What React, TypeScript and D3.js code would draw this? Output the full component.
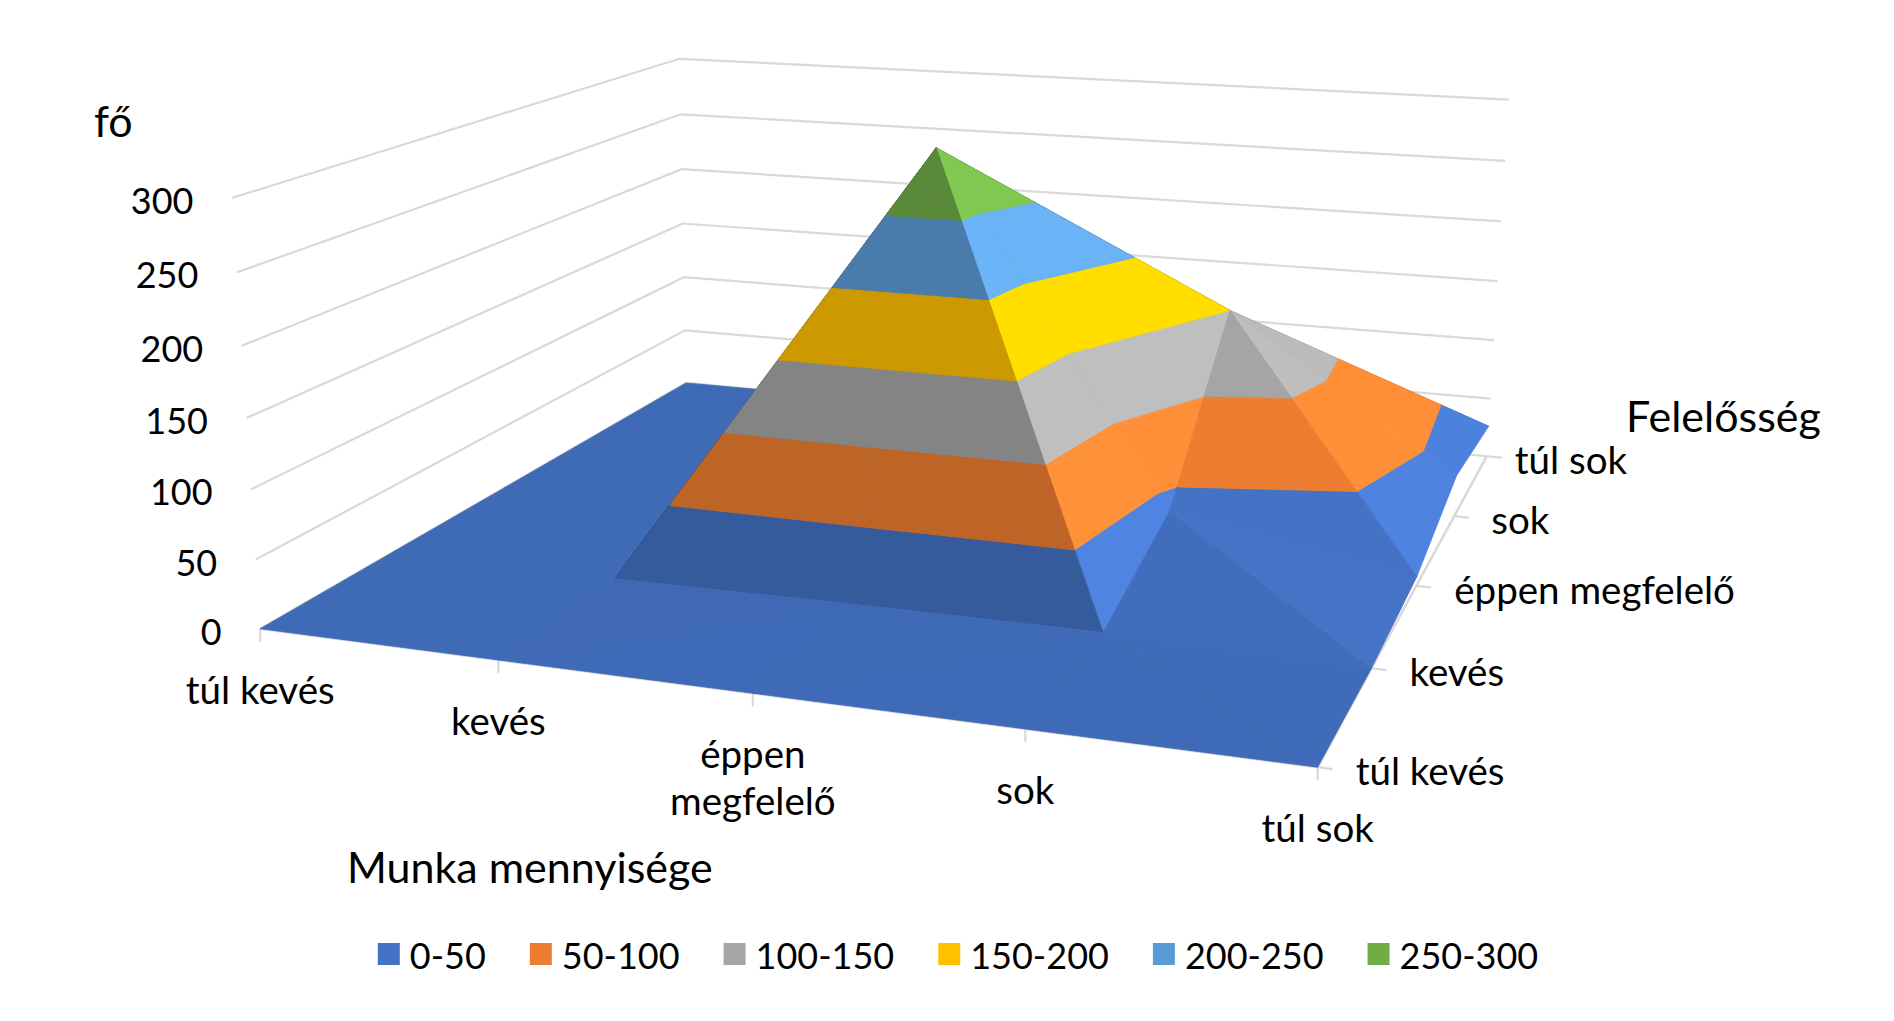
import React, { useMemo } from 'react';
import * as d3 from 'd3';

// ---------------- data ----------------
// Munka mennyisége (category axis, left -> right)
const munkaCategories = ['túl kevés', 'kevés', 'éppen megfelelő', 'sok', 'túl sok'];
// Felelősség (series / depth axis, front -> back)
const felelossegSeries = ['túl kevés', 'kevés', 'éppen megfelelő', 'sok', 'túl sok'];
// values per Felelősség series, one value per Munka category (fő)
const valuesTulKeves = [0, 0, 0, 0, 0];
const valuesKeves = [0, 0, 2, 3, 0];
const valuesEppen = [0, 0, 297, 37, 7];
const valuesSok = [0, 0, 40, 150, 33];
const valuesTulSok = [0, 0, 10, 15, 26];
const seriesValues = [valuesTulKeves, valuesKeves, valuesEppen, valuesSok, valuesTulSok];

const valueTicks = [0, 50, 100, 150, 200, 250, 300];
const bandLimits = [0, 50, 100, 150, 200, 250, 300];
const bandLabels = ['0-50', '50-100', '100-150', '150-200', '200-250', '250-300'];
const bandColors = ['#4472C4', '#ED7D31', '#A5A5A5', '#FFC000', '#5B9BD5', '#70AD47'];

// ---------------- layout ----------------
const W = 1894;
const H = 1021;
const FONT = 'Lato, "Open Sans", sans-serif';
const NUM_FONT = 36;
const WORD_FONT = 38.5;
const TITLE_FONT = 43;
const GRID = '#D9D9D9';
const DEPTH_LABEL_DX = [38, 38, 38, 37, 28];
// 3D frame calibration: [category index, value, series index, px, py]
const FRAME_ANCHORS: number[][] = [
  [0, 0, 0, 260, 628],
  [1, 0, 0, 498, 659.5],
  [2, 0, 0, 752.4, 692.6],
  [3, 0, 0, 1025.2, 728.5],
  [4, 0, 0, 1318.5, 767],
  [4, 0, 1, 1372, 668.1],
  [4, 0, 2, 1416.5, 585.9],
  [4, 0, 3, 1454, 516.5],
  [4, 0, 4, 1486, 457],
  [0, 0, 4, 687, 384],
  [0, 300, 0, 232.5, 199.3],
  [0, 150, 0, 245.8, 419],
  [0, 300, 4, 679.5, 58.3],
  [0, 150, 4, 682.5, 222.3],
  [4, 300, 4, 1508.7, 99.3],
  [4, 150, 4, 1498, 281],
];
// lighting model (physical height of value axis relative to a category step)
const HEIGHT_ASPECT = 0.39;
const LIGHT = [0.559, 0.571, -0.156];
const AMBIENT = 0.359;

function solveLinear(A: number[][], b: number[]): number[] {
  const n = b.length;
  const M = A.map((row, i) => [...row, b[i]]);
  for (let c = 0; c < n; c++) {
    let p = c;
    for (let r = c + 1; r < n; r++) if (Math.abs(M[r][c]) > Math.abs(M[p][c])) p = r;
    const tmp = M[c];
    M[c] = M[p];
    M[p] = tmp;
    for (let r = 0; r < n; r++) {
      if (r === c) continue;
      const f = M[r][c] / M[c][c];
      for (let k = c; k <= n; k++) M[r][k] -= f * M[c][k];
    }
  }
  return M.map((row, i) => row[n] / row[i]);
}

type Proj = (X: number, Y: number, Z: number) => { x: number; y: number; w: number };

function fitCamera(anchors: number[][]): Proj {
  const S = 1 / 1000;
  const n = 11;
  const AtA = Array.from({ length: n }, () => new Array(n).fill(0));
  const Atb = new Array(n).fill(0);
  const add = (r: number[], t: number) => {
    for (let i = 0; i < n; i++) {
      Atb[i] += r[i] * t;
      for (let j = 0; j < n; j++) AtA[i][j] += r[i] * r[j];
    }
  };
  anchors.forEach(([X, Y, Z, u, v]) => {
    const uu = u * S;
    const vv = v * S;
    add([X, Y, Z, 1, 0, 0, 0, 0, -uu * X, -uu * Y, -uu * Z], uu);
    add([0, 0, 0, 0, X, Y, Z, 1, -vv * X, -vv * Y, -vv * Z], vv);
  });
  const p = solveLinear(AtA, Atb);
  return (X, Y, Z) => {
    const w = p[8] * X + p[9] * Y + p[10] * Z + 1;
    return {
      x: (p[0] * X + p[1] * Y + p[2] * Z + p[3]) / w / S,
      y: (p[4] * X + p[5] * Y + p[6] * Z + p[7]) / w / S,
      w,
    };
  };
}

type P3 = [number, number, number]; // [X, value, Z]

function clipPoly(poly: P3[], level: number, keepAbove: boolean): P3[] {
  if (!isFinite(level)) return poly;
  const out: P3[] = [];
  for (let k = 0; k < poly.length; k++) {
    const a = poly[k];
    const b = poly[(k + 1) % poly.length];
    const ina = keepAbove ? a[1] >= level : a[1] <= level;
    const inb = keepAbove ? b[1] >= level : b[1] <= level;
    if (ina) out.push(a);
    if (ina !== inb) {
      const t = (level - a[1]) / (b[1] - a[1]);
      out.push([a[0] + t * (b[0] - a[0]), level, a[2] + t * (b[2] - a[2])]);
    }
  }
  return out;
}

function shade(color: string, f: number): string {
  const c = d3.rgb(color);
  const cl = (v: number) => Math.max(0, Math.min(255, Math.round(v * f)));
  return d3.rgb(cl(c.r), cl(c.g), cl(c.b)).formatHex();
}

function measure(text: string, size: number): number {
  const ctx = document.createElement('canvas').getContext('2d');
  if (!ctx) return text.length * size * 0.55;
  ctx.font = `${size}px Lato`;
  return ctx.measureText(text).width;
}

export default function App() {
  const xScale = d3.scalePoint<string>().domain(munkaCategories).range([0, 4]);
  const zScale = d3.scalePoint<number>().domain(felelossegSeries.map((_, i) => i)).range([0, 4]);
  const yScale = d3.scaleLinear().domain([0, 300]).range([0, 4]);

  const project = useMemo(
    () =>
      fitCamera(
        FRAME_ANCHORS.map(([ci, v, si, px, py]) => [
          xScale(munkaCategories[ci]) as number,
          yScale(v),
          zScale(si) as number,
          px,
          py,
        ])
      ),
    []
  );
  const pt = (X: number, v: number, Z: number) => project(X, yScale(v), Z);

  // ---- surface triangles (painter's order: back rows first, left to right) ----
  const polys: { d: string; fill: string }[] = [];
  const gp = (i: number, j: number): P3 => [
    xScale(munkaCategories[i]) as number,
    seriesValues[j][i],
    zScale(j) as number,
  ];
  for (let j = felelossegSeries.length - 2; j >= 0; j--) {
    for (let i = 0; i < munkaCategories.length - 1; i++) {
      const v = seriesValues;
      const sumMain = v[j][i] + v[j + 1][i + 1];
      const sumAnti = v[j][i + 1] + v[j + 1][i];
      let tris: P3[][];
      if (sumMain >= sumAnti) {
        tris = [
          [gp(i, j), gp(i + 1, j + 1), gp(i, j + 1)],
          [gp(i, j), gp(i + 1, j), gp(i + 1, j + 1)],
        ];
      } else {
        tris = [
          [gp(i + 1, j), gp(i + 1, j + 1), gp(i, j + 1)],
          [gp(i, j), gp(i + 1, j), gp(i, j + 1)],
        ];
      }
      const depth = (t: P3[]) => {
        const cx = (t[0][0] + t[1][0] + t[2][0]) / 3;
        const cz = (t[0][2] + t[1][2] + t[2][2]) / 3;
        return project(cx, 0, cz).w;
      };
      tris.sort((a, b) => depth(b) - depth(a));
      tris.forEach((tri) => {
        const ph = tri.map((p) => [p[0], yScale(p[1]) * HEIGHT_ASPECT, p[2]]);
        const a = [ph[1][0] - ph[0][0], ph[1][1] - ph[0][1], ph[1][2] - ph[0][2]];
        const b = [ph[2][0] - ph[0][0], ph[2][1] - ph[0][1], ph[2][2] - ph[0][2]];
        let nx = a[1] * b[2] - a[2] * b[1];
        let ny = a[2] * b[0] - a[0] * b[2];
        let nz = a[0] * b[1] - a[1] * b[0];
        if (ny < 0) {
          nx = -nx;
          ny = -ny;
          nz = -nz;
        }
        const len = Math.hypot(nx, ny, nz) || 1;
        const f = AMBIENT + (LIGHT[0] * nx + LIGHT[1] * ny + LIGHT[2] * nz) / len;
        for (let bI = 0; bI < bandColors.length; bI++) {
          const lo = bI === 0 ? -Infinity : bandLimits[bI];
          const hi = bI === bandColors.length - 1 ? Infinity : bandLimits[bI + 1];
          const poly = clipPoly(clipPoly(tri, lo, true), hi, false);
          if (poly.length < 3) continue;
          const pts = poly.map((p) => {
            const q = pt(p[0], p[1], p[2]);
            return [q.x, q.y] as [number, number];
          });
          polys.push({ d: (d3.line()(pts) as string) + 'Z', fill: shade(bandColors[bI], f) });
        }
      });
    }
  }

  // ---- gridlines on walls ----
  const gridPaths = valueTicks.map((v) => {
    const a = pt(0, v, 0);
    const b = pt(0, v, 4);
    const c = pt(4, v, 4);
    return `M${a.x},${a.y}L${b.x},${b.y}L${c.x},${c.y}`;
  });

  const frontA = pt(0, 0, 0);
  const frontB = pt(4, 0, 0);
  const sideB = pt(4, 0, 4);

  // ---- legend layout ----
  const sq = 22;
  const gapText = 10;
  const gapItem = 44;
  const legendWidths = bandLabels.map((l) => sq + gapText + measure(l, NUM_FONT));
  const legendTotal = d3.sum(legendWidths) + gapItem * (bandLabels.length - 1);
  const legendCenter = 958;
  const legendY = 954;
  let lx = legendCenter - legendTotal / 2;
  const legendItems = bandLabels.map((l, k) => {
    const x0 = lx;
    lx += legendWidths[k] + gapItem;
    return { label: l, x: x0, color: bandColors[k] };
  });

  return (
    <div style={{ position: 'absolute', left: 0, top: 0, width: W, height: H, background: '#fff' }}>
      <svg width={W} height={H} viewBox={`0 0 ${W} ${H}`} style={{ display: 'block' }} fontFamily={FONT}>
        <rect x={0} y={0} width={W} height={H} fill="#fff" />
        {gridPaths.map((d, k) => (
          <path key={'g' + k} d={d} fill="none" stroke={GRID} strokeWidth={2.2} />
        ))}
        {/* axis lines */}
        <line x1={frontA.x} y1={frontA.y} x2={frontB.x} y2={frontB.y} stroke={GRID} strokeWidth={2.6} />
        <line x1={frontB.x} y1={frontB.y} x2={sideB.x} y2={sideB.y} stroke={GRID} strokeWidth={2.6} />
        {munkaCategories.map((c, i) => {
          const p = pt(xScale(c) as number, 0, 0);
          return <line key={'tx' + i} x1={p.x} y1={p.y} x2={p.x} y2={p.y + 13} stroke={GRID} strokeWidth={2.2} />;
        })}
        {felelossegSeries.map((s, j) => {
          const p = pt(4, 0, zScale(j) as number);
          const q = pt(4.2, 0, zScale(j) as number);
          const dx = q.x - p.x;
          const dy = q.y - p.y;
          const l = Math.hypot(dx, dy);
          return (
            <line key={'tz' + j} x1={p.x} y1={p.y} x2={p.x + (dx / l) * 15} y2={p.y + (dy / l) * 15} stroke={GRID} strokeWidth={2.2} />
          );
        })}
        {/* surface */}
        {polys.map((p, k) => (
          <path key={'s' + k} d={p.d} fill={p.fill} stroke={p.fill} strokeWidth={0.8} strokeLinejoin="round" />
        ))}
        {/* value axis labels */}
        {valueTicks.map((v) => {
          const p = pt(0, v, 0);
          return (
            <text key={'v' + v} x={p.x - 38.5} y={p.y + 2} textAnchor="end" dominantBaseline="central" fontSize={NUM_FONT} fill="#000">
              {v}
            </text>
          );
        })}
        {/* category labels */}
        {munkaCategories.map((c, i) => {
          const p = pt(xScale(c) as number, 0, 0);
          const lines = c.length > 12 ? [c.slice(0, c.indexOf(' ')), c.slice(c.indexOf(' ') + 1)] : [c];
          return (
            <text key={'c' + i} x={p.x} y={p.y + 75} textAnchor="middle" fontSize={WORD_FONT} fill="#000">
              {lines.map((ln, k) => (
                <tspan key={k} x={p.x} dy={k === 0 ? 0 : 47}>
                  {ln}
                </tspan>
              ))}
            </text>
          );
        })}
        {/* series (depth) labels */}
        {felelossegSeries.map((s, j) => {
          const p = pt(4, 0, zScale(j) as number);
          return (
            <text key={'z' + j} x={p.x + DEPTH_LABEL_DX[j]} y={p.y + 3} dominantBaseline="central" fontSize={WORD_FONT} fill="#000">
              {s}
            </text>
          );
        })}
        {/* axis titles */}
        <text x={94} y={137} fontSize={TITLE_FONT} fill="#000">
          fő
        </text>
        <text x={1626} y={432} fontSize={TITLE_FONT} fill="#000">
          Felelősség
        </text>
        <text x={347} y={883} fontSize={TITLE_FONT} fill="#000">
          Munka mennyisége
        </text>
        {/* legend */}
        {legendItems.map((it) => (
          <g key={it.label}>
            <rect x={it.x} y={legendY - sq / 2} width={sq} height={sq} fill={it.color} />
            <text x={it.x + sq + gapText} y={legendY + 1} dominantBaseline="central" fontSize={NUM_FONT} fill="#000">
              {it.label}
            </text>
          </g>
        ))}
      </svg>
    </div>
  );
}
